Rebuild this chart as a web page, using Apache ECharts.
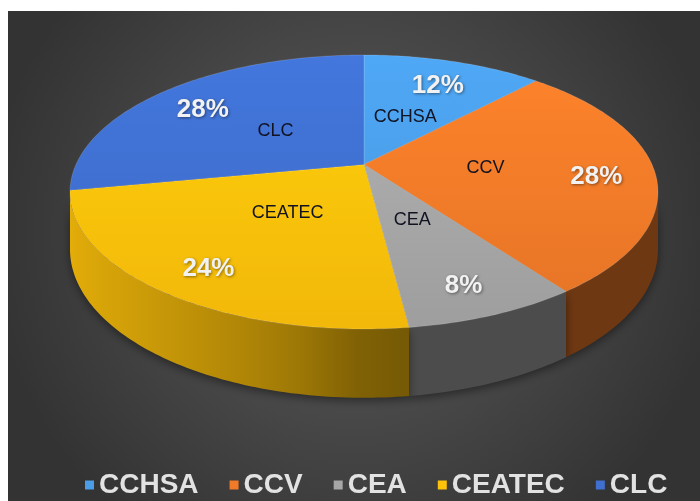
<!DOCTYPE html>
<html>
<head>
<meta charset="utf-8">
<script src="https://cdn.jsdelivr.net/npm/echarts@6/dist/echarts.min.js"></script>
<style>
  html, body { margin: 0; padding: 0; background: #fff; }
  #chart { width: 700px; height: 501px; }
</style>
</head>
<body>
<div id="chart"></div>
<script>
var categories = ['CCHSA', 'CCV', 'CEA', 'CEATEC', 'CLC']
var values = [12, 28, 8, 24, 28]
var percentLabels = ['12%', '28%', '8%', '24%', '28%']
var colors = ['#4a9de6', '#f07a28', '#a6a6a6', '#ffc20a', '#3f6fcf']

// tilted disk: ellipse centre, radii, perspective shift of the pie centre, wall height
var CX = 364, CY = 192, RX = 294, RY = 137, TILT = -0.2, DEPTH = 55
var SIL_A = Math.acos(TILT), SIL_B = 2 * Math.PI - SIL_A

var total = values.reduce(function (a, b) { return a + b }, 0)
var starts = []
var acc = 0
for (var i = 0; i < values.length; i++) {
  starts.push(acc / total * 2 * Math.PI)
  acc += values[i]
}

function project (theta, r, drop) {
  var x = r * Math.sin(theta)
  var y = -r * Math.cos(theta)
  var den = 1 + TILT * y
  var px = x * Math.sqrt(1 - TILT * TILT) / den
  var py = (y + TILT) / den
  return [CX + RX * px, CY + RY * py + (drop ? DEPTH / den : 0)]
}

function shade (hex, k) {
  var n = parseInt(hex.slice(1), 16)
  var r = Math.min(255, Math.round(((n >> 16) & 255) * k))
  var g = Math.min(255, Math.round(((n >> 8) & 255) * k))
  var b = Math.min(255, Math.round((n & 255) * k))
  return 'rgb(' + r + ',' + g + ',' + b + ')'
}

function wallLight (theta) {
  return 0.46 + 0.44 * Math.pow(Math.max(0, -Math.sin(theta)), 0.6)
}

function arc (a, b, r, drop) {
  var pts = []
  var steps = Math.max(2, Math.ceil(Math.abs(b - a) / (Math.PI / 180)))
  for (var k = 0; k <= steps; k++) {
    pts.push(project(a + (b - a) * k / steps, r, drop))
  }
  return pts
}

function renderSlice (params, api) {
  var idx = params.seriesIndex
  var s = starts[idx]
  var e = s + api.value(0) / total * 2 * Math.PI
  var color = colors[idx]
  var children = []

  // side wall (only the front part is visible)
  var a = Math.max(s, SIL_A)
  var b = Math.min(e, SIL_B)
  if (a < b) {
    var pts = arc(a, b, 1, false).concat(arc(b, a, 1, true))
    var xR = project(a, 1, false)[0]
    var xL = project(b, 1, false)[0]
    var stops = []
    for (var k = 0; k <= 10; k++) {
      var t = b + (a - b) * k / 10
      var off = (project(t, 1, false)[0] - xL) / (xR - xL)
      stops.push({ offset: Math.min(1, Math.max(0, off)), color: shade(color, wallLight(t)) })
    }
    children.push({
      type: 'polygon',
      z2: 1,
      shape: { points: pts },
      style: {
        fill: new echarts.graphic.LinearGradient(xL, 0, xR, 0, stops, true),
        shadowBlur: 10,
        shadowColor: 'rgba(0,0,0,0.45)',
        shadowOffsetY: 3
      }
    })
  }

  // top face
  var top = [project(0, 0, false)].concat(arc(s, e, 1, false))
  children.push({
    type: 'polygon',
    z2: 10,
    shape: { points: top },
    style: {
      fill: new echarts.graphic.LinearGradient(0, CY - RY, 0, CY + RY, [
        { offset: 0, color: shade(color, 1.07) },
        { offset: 1, color: shade(color, 0.95) }
      ], true),
      stroke: 'rgba(255,255,255,0.18)',
      lineWidth: 0.8
    }
  })

  var mid = (s + e) / 2
  var np = project(mid, 0.42, false)
  var pp = project(mid, 0.8, false)
  children.push({
    type: 'text',
    z2: 50,
    x: np[0],
    y: np[1],
    style: {
      text: categories[idx],
      fill: '#111322',
      fontSize: 18,
      fontFamily: 'Liberation Sans, Arial, sans-serif',
      align: 'center',
      verticalAlign: 'middle'
    }
  })
  children.push({
    type: 'text',
    z2: 50,
    x: pp[0],
    y: pp[1] + 6,
    style: {
      text: percentLabels[idx],
      fill: '#f2f2f2',
      fontSize: 26,
      fontWeight: 'bold',
      fontFamily: 'Liberation Sans, Arial, sans-serif',
      align: 'center',
      verticalAlign: 'middle',
      textShadowColor: 'rgba(0,0,0,0.45)',
      textShadowBlur: 3,
      textShadowOffsetX: 1,
      textShadowOffsetY: 1
    }
  })
  return { type: 'group', children: children }
}

var series = []
for (var j = 0; j < categories.length; j++) {
  series.push({
    type: 'custom',
    name: categories[j],
    coordinateSystem: 'none',
    itemStyle: { color: colors[j] },
    renderItem: renderSlice,
    data: [[values[j]]]
  })
}

var chart = echarts.init(document.getElementById('chart'))
chart.setOption({
  animation: false,
  graphic: [{
    type: 'rect',
    z: -10,
    shape: { x: 8, y: 11, width: 692, height: 490 },
    style: {
      fill: new echarts.graphic.RadialGradient(0.5, 0.45, 0.75, [
        { offset: 0, color: '#5d5d5d' },
        { offset: 1, color: '#333333' }
      ])
    }
  }],
  legend: {
    data: categories,
    top: 466,
    left: 80,
    icon: 'rect',
    itemWidth: 9,
    itemHeight: 9,
    itemGap: 31,
    textStyle: {
      color: '#e2e2e2',
      fontSize: 28,
      fontWeight: 'bold',
      fontFamily: 'Liberation Sans, Arial, sans-serif'
    }
  },
  series: series
})
</script>
</body>
</html>
